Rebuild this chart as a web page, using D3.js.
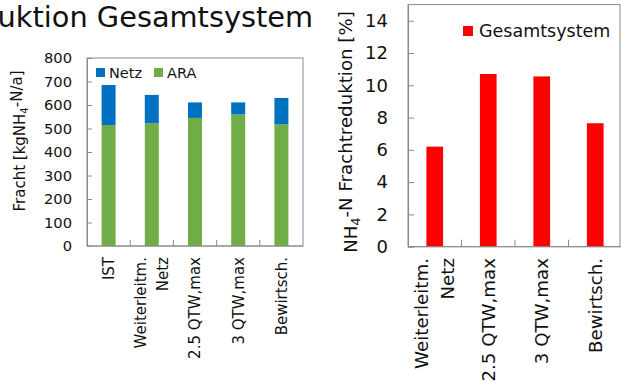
<!DOCTYPE html>
<html><head><meta charset="utf-8">
<script src="https://cdn.jsdelivr.net/npm/d3@7"></script>
<style>
html,body{margin:0;padding:0;background:#fff;overflow:hidden;}
text{font-family:"DejaVu Sans",Verdana,sans-serif;fill:#111;}
</style></head>
<body><svg id="c" width="621" height="382"></svg>
<script>
// ---- data ----
const titleText = "NH4-N Frachtreduktion Gesamtsystem";
const leftCategories = ["IST", "Weiterleitm.|Netz", "2.5 QTW,max", "3 QTW,max", "Bewirtsch."];
const araValues = [515, 522, 545, 560, 518];
const netzValues = [170, 121, 66, 51, 112];
const leftTicks = [0, 100, 200, 300, 400, 500, 600, 700, 800];
const leftSeries = ["Netz", "ARA"];

const rightCategories = ["Weiterleitm.|Netz", "2.5 QTW,max", "3 QTW,max", "Bewirtsch."];
const reductionValues = [6.2, 10.7, 10.55, 7.65];
const rightTicks = [0, 2, 4, 6, 8, 10, 12, 14];
const rightSeries = ["Gesamtsystem"];

const colors = {Netz: "#0070C0", ARA: "#70AD47", Gesamtsystem: "#FF0000"};
const frameColor = "#8a8a8a";
const FONT = "'DejaVu Sans',Verdana,sans-serif";

const svg = d3.select("#c");

// ---- title ----
svg.append("text").attr("x", 313).attr("y", 27).attr("text-anchor", "end")
  .style("font-size", "28.8px")
  .text(titleText);

function catLabels(g, scale, cats, y0, fs, lh) {
  cats.forEach(c => {
    const lines = c.split("|");
    const cx = scale(c) + scale.bandwidth() / 2;
    lines.forEach((ln, i) => {
      const off = (i - (lines.length - 1) / 2) * lh;
      g.append("text")
        .attr("transform", `translate(${cx + off},${y0}) rotate(-90)`)
        .attr("text-anchor", "end").attr("dy", "0.36em")
        .style("font-size", fs + "px").text(ln);
    });
  });
}

// ================= LEFT CHART =================
{
  const L = {x0: 87, x1: 303, y0: 246, y1: 58};
  const x = d3.scaleBand().domain(leftCategories).range([L.x0, L.x1]).paddingInner(0.676).paddingOuter(0.338);
  const y = d3.scaleLinear().domain([0, 800]).range([L.y0, L.y1]);
  const g = svg.append("g");

  g.append("rect").attr("x", L.x0).attr("y", L.y1).attr("width", L.x1 - L.x0).attr("height", L.y0 - L.y1)
    .attr("fill", "none").attr("stroke", frameColor).attr("stroke-width", 1);

  const stack = d3.stack().keys(["ARA", "Netz"])(leftCategories.map((c, i) => ({cat: c, ARA: araValues[i], Netz: netzValues[i]})));
  stack.forEach(s => {
    g.selectAll(null).data(s).enter().append("rect")
      .attr("x", d => x(d.data.cat)).attr("width", x.bandwidth())
      .attr("y", d => y(d[1])).attr("height", d => y(d[0]) - y(d[1]))
      .attr("fill", colors[s.key]);
  });

  const ya = g.append("g").attr("transform", `translate(${L.x0},0)`)
    .call(d3.axisLeft(y).tickValues(leftTicks).tickSizeInner(-5).tickSizeOuter(0).tickPadding(15));
  ya.select(".domain").attr("stroke", frameColor);
  ya.selectAll(".tick line").attr("stroke", frameColor);
  ya.selectAll(".tick text").style("font-size", "14.7px").style("font-family", FONT).attr("fill", "#111");

  const step = x.step();
  g.selectAll(null).data(d3.range(1, leftCategories.length)).enter().append("line")
    .attr("x1", i => L.x0 + i * step).attr("x2", i => L.x0 + i * step)
    .attr("y1", L.y0).attr("y2", L.y0 - 6).attr("stroke", frameColor);
  g.append("line").attr("x1", L.x0).attr("x2", L.x1).attr("y1", L.y0).attr("y2", L.y0).attr("stroke", frameColor);

  catLabels(g, x, leftCategories, 257, 15, 22);

  const yl = g.append("text").attr("transform", "translate(20,141) rotate(-90)").attr("text-anchor", "middle")
    .attr("dy", "0.36em").style("font-size", "15px");
  yl.append("tspan").text("Fracht [kgNH");
  yl.append("tspan").attr("dy", "0.3em").style("font-size", "10px").text("4");
  yl.append("tspan").attr("dy", "-0.45em").text("-N/a]");

  const lx = [96, 154];
  leftSeries.forEach((s, i) => {
    g.append("rect").attr("x", lx[i]).attr("y", 68).attr("width", 9).attr("height", 9).attr("fill", colors[s]);
    g.append("text").attr("x", lx[i] + 13).attr("y", 78).style("font-size", "14.5px").text(s);
  });
}

// ================= RIGHT CHART =================
{
  const R = {x0: 408, x1: 622, frameRight: 620, y0: 246.7, top: 4.6};
  const x = d3.scaleBand().domain(rightCategories).range([R.x0, R.x1]).paddingInner(0.688).paddingOuter(0.344);
  const y = d3.scaleLinear().domain([0, 15]).range([R.y0, R.top]);
  const g = svg.append("g");

  g.append("rect").attr("x", R.x0).attr("y", R.top).attr("width", R.frameRight - R.x0).attr("height", R.y0 - R.top)
    .attr("fill", "none").attr("stroke", frameColor);

  g.selectAll(null).data(rightCategories).enter().append("rect")
    .attr("x", d => x(d)).attr("width", x.bandwidth())
    .attr("y", (d, i) => y(reductionValues[i])).attr("height", (d, i) => y(0) - y(reductionValues[i]))
    .attr("fill", colors.Gesamtsystem);

  const ya = g.append("g").attr("transform", `translate(${R.x0},0)`)
    .call(d3.axisLeft(y).tickValues(rightTicks).tickSizeInner(-6).tickSizeOuter(0).tickPadding(20));
  ya.select(".domain").attr("stroke", frameColor);
  ya.selectAll(".tick line").attr("stroke", frameColor);
  ya.selectAll(".tick text").style("font-size", "18px").style("font-family", FONT).attr("fill", "#111");

  const step = x.step();
  g.selectAll(null).data(d3.range(1, rightCategories.length)).enter().append("line")
    .attr("x1", i => R.x0 + i * step).attr("x2", i => R.x0 + i * step)
    .attr("y1", R.y0).attr("y2", R.y0 - 7).attr("stroke", frameColor);
  g.append("line").attr("x1", R.x0).attr("x2", R.x1).attr("y1", R.y0).attr("y2", R.y0).attr("stroke", frameColor);

  catLabels(g, x, rightCategories, 258, 18.2, 26);

  const yl = g.append("text").attr("transform", "translate(350,132) rotate(-90)").attr("text-anchor", "middle")
    .attr("dy", "0.36em").style("font-size", "18.2px");
  yl.append("tspan").text("NH");
  yl.append("tspan").attr("dy", "0.3em").style("font-size", "12.5px").text("4");
  yl.append("tspan").attr("dy", "-0.45em").text("-N Frachtreduktion [%]");

  g.append("rect").attr("x", 463).attr("y", 26).attr("width", 10).attr("height", 10).attr("fill", colors.Gesamtsystem);
  g.append("text").attr("x", 479).attr("y", 37).style("font-size", "17.5px").text(rightSeries[0]);
}
</script></body></html>
